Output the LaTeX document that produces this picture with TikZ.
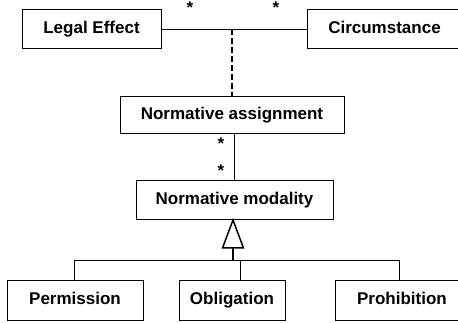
\documentclass[tikz,border=0pt]{standalone}
\usepackage{fontspec}
\setmainfont{Liberation Sans}
\begin{document}
\begin{tikzpicture}[x=1pt,y=-1pt,
  cls/.style={draw, line width=1pt, rectangle, inner sep=0pt,
    text height=12pt, text depth=4pt,
    font=\fontsize{17}{20}\selectfont\bfseries},
  mult/.style={inner sep=0pt, font=\fontsize{17}{17}\selectfont\bfseries},
  link/.style={line width=0.9pt}]
\useasboundingbox (0,0) rectangle (458,323);

% classes
\node[cls, minimum width=139pt, minimum height=39pt] (legal) at (91.5,29.5) {Legal Effect};
\node[cls, minimum width=155pt, minimum height=39pt] (circ) at (384.5,29.5) {Circumstance};
\node[cls, minimum width=224pt, minimum height=37pt] (assign) at (232,115.5) {Normative assignment};
\node[cls, minimum width=197pt, minimum height=39pt] (modal) at (234.5,200.5) {Normative modality};
\node[cls, minimum width=136pt, minimum height=39pt] (perm) at (75,300.5) {Permission};
\node[cls, minimum width=106pt, minimum height=39pt] (oblig) at (232,300.5) {Obligation};
\node[cls, minimum width=134pt, minimum height=39pt] (prohib) at (402,300.5) {Prohibition};

% association between legal effect and circumstance, with its class
\draw[link] (legal.east) -- (circ.west);
\coordinate (mid) at (232,29.5);
\draw[line width=2pt, dash pattern=on 6pt off 3pt] (mid) -- (assign.north);
\node[mult] (m1) at (190,8) {*};
\node[mult] (m2) at (276,8) {*};

% association between assignment and modality
\draw[link] (modal.north -| 234,0) -- (assign.south -| 234,0);
\node[mult] (m3) at (221,144) {*};
\node[mult] (m4) at (221,171) {*};

% generalization
\coordinate (apex) at (233,220);
\coordinate (base) at (233,248);
\coordinate (bar) at (233,260);
\coordinate (bl) at (74,260);
\coordinate (bm) at (240,260);
\coordinate (br) at (399,260);
\draw[line width=1.5pt, fill=white, line join=miter] (apex) -- (222.5,248) -- (243.5,248) -- cycle;
\draw[line width=2pt] (base) -- (bar);
\draw[link] (bl) -- (br);
\draw[link] (bl) -- (bl |- perm.north);
\draw[link] (bm) -- (bm |- oblig.north);
\draw[link] (br) -- (br |- prohib.north);
\end{tikzpicture}
\end{document}
